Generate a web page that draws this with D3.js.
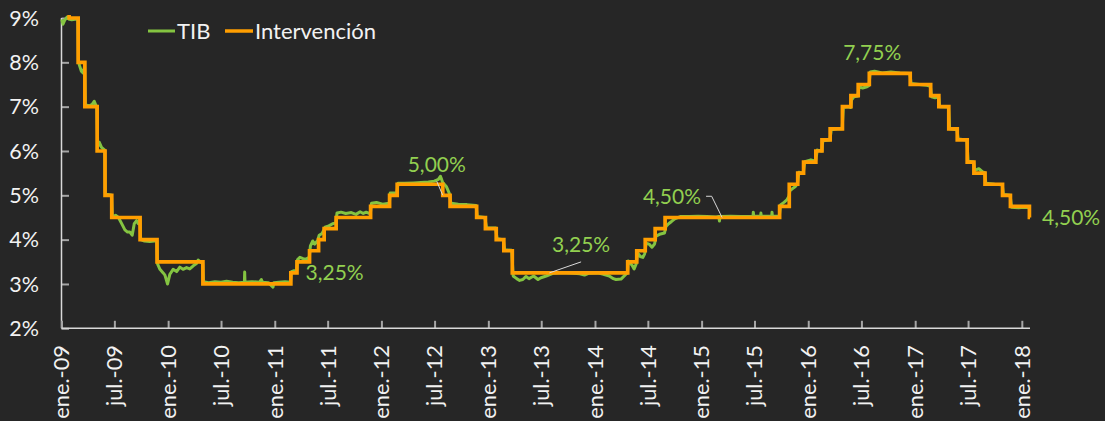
<!DOCTYPE html>
<html>
<head>
<meta charset="utf-8">
<script src="https://cdn.jsdelivr.net/npm/d3@7"></script>
<style>
  html, body { margin: 0; padding: 0; background: #262626; }
  svg { display: block; }
  text { font-family: Lato, "Open Sans", sans-serif; }
</style>
</head>
<body>
<svg id="chart" width="1105" height="421"></svg>
<script>
// Tasa de intervención del Banco de la República: fecha de cada cambio y nivel (%)
const policyDates = [
  "2009-01-01","2009-01-27","2009-02-27","2009-03-22","2009-05-03","2009-05-30","2009-06-22",
  "2009-09-27","2009-11-24","2010-04-30","2011-02-25","2011-03-18","2011-04-30","2011-05-31",
  "2011-06-19","2011-07-30","2011-11-25","2012-01-29","2012-02-24","2012-07-29","2012-08-23",
  "2012-11-22","2012-12-22","2013-01-28","2013-02-23","2013-03-24","2014-04-23","2014-05-24",
  "2014-06-22","2014-07-26","2014-08-29","2015-09-25","2015-10-28","2015-11-26","2015-12-16",
  "2016-01-27","2016-02-17","2016-03-16","2016-04-27","2016-05-26","2016-06-20","2016-07-28",
  "2016-12-15","2017-02-23","2017-03-23","2017-04-26","2017-05-25","2017-06-28","2017-07-21",
  "2017-08-28","2017-10-27","2017-11-23","2018-01-27","2018-01-29"
];
const policyRates = [
  9.50, 9.00, 8.00, 7.00, 6.00, 5.00, 4.50,
  4.00, 3.50, 3.00, 3.25, 3.50, 3.75, 4.00,
  4.25, 4.50, 4.75, 5.00, 5.25, 5.00, 4.75,
  4.50, 4.25, 4.00, 3.75, 3.25, 3.50, 3.75,
  4.00, 4.25, 4.50, 4.75, 5.25, 5.50, 5.75,
  6.00, 6.25, 6.50, 7.00, 7.25, 7.50, 7.75,
  7.50, 7.25, 7.00, 6.50, 6.25, 5.75, 5.50,
  5.25, 5.00, 4.75, 4.50, 4.50
];

// Tasa interbancaria (TIB), %: fecha y valor
const tib = [
  ["2009-01-02",8.97],["2009-01-06",8.86],["2009-01-12",8.95],["2009-01-20",9.02],["2009-01-28",8.97],
  ["2009-02-05",8.96],["2009-02-16",8.97],["2009-02-26",8.97],
  ["2009-02-28",8.02],["2009-03-04",7.92],["2009-03-10",7.80],["2009-03-16",7.76],["2009-03-21",7.90],
  ["2009-03-24",7.04],["2009-04-06",7.02],["2009-04-16",7.05],["2009-04-23",7.12],["2009-04-28",7.04],["2009-05-02",7.00],
  ["2009-05-05",6.10],["2009-05-10",6.20],["2009-05-18",6.08],["2009-05-29",6.02],
  ["2009-05-31",5.05],["2009-06-10",5.02],["2009-06-21",5.00],
  ["2009-06-24",4.52],["2009-07-05",4.55],["2009-07-15",4.50],["2009-07-26",4.36],["2009-08-06",4.22],
  ["2009-08-15",4.17],["2009-08-23",4.17],["2009-08-31",4.10],["2009-09-07",4.36],["2009-09-15",4.43],
  ["2009-09-21",4.36],["2009-09-26",4.47],
  ["2009-09-29",4.00],["2009-10-12",3.97],["2009-10-30",3.96],["2009-11-15",3.97],["2009-11-23",3.98],
  ["2009-11-26",3.45],["2009-12-04",3.33],["2009-12-15",3.25],["2009-12-21",3.20],["2009-12-30",3.00],
  ["2010-01-07",3.22],["2010-01-18",3.33],["2010-01-30",3.28],["2010-02-10",3.38],["2010-02-21",3.33],
  ["2010-03-05",3.37],["2010-03-16",3.34],["2010-03-28",3.41],["2010-04-08",3.46],["2010-04-14",3.54],
  ["2010-04-25",3.48],["2010-04-29",3.50],
  ["2010-05-02",3.05],["2010-05-20",3.03],["2010-06-10",3.05],["2010-07-01",3.04],["2010-07-20",3.06],
  ["2010-08-10",3.04],["2010-08-31",3.03],["2010-09-19",3.04],["2010-09-20",3.27],["2010-09-21",3.04],
  ["2010-10-15",3.05],["2010-11-10",3.04],["2010-11-16",3.10],["2010-11-20",3.04],["2010-12-10",3.03],
  ["2010-12-26",2.93],["2010-12-29",3.03],["2011-01-15",3.04],["2011-02-05",3.05],["2011-02-24",3.04],
  ["2011-02-27",3.28],["2011-03-08",3.30],["2011-03-17",3.30],
  ["2011-03-20",3.55],["2011-03-28",3.60],["2011-04-08",3.57],["2011-04-18",3.56],["2011-04-29",3.60],
  ["2011-05-03",3.86],["2011-05-11",3.97],["2011-05-18",3.90],["2011-05-28",3.98],
  ["2011-06-02",4.10],["2011-06-12",4.14],["2011-06-18",4.22],
  ["2011-06-22",4.28],["2011-07-05",4.31],["2011-07-18",4.36],["2011-07-29",4.38],
  ["2011-08-02",4.60],["2011-08-16",4.62],["2011-09-01",4.59],["2011-09-20",4.61],["2011-10-06",4.57],
  ["2011-10-20",4.63],["2011-10-31",4.59],["2011-11-10",4.62],["2011-11-24",4.58],
  ["2011-11-28",4.82],["2011-12-15",4.84],["2012-01-05",4.80],["2012-01-28",4.82],
  ["2012-01-31",5.05],["2012-02-12",5.05],["2012-02-23",5.06],
  ["2012-02-27",5.27],["2012-03-20",5.27],["2012-04-20",5.28],["2012-05-15",5.29],["2012-06-10",5.30],
  ["2012-06-30",5.32],["2012-07-14",5.36],["2012-07-21",5.43],["2012-07-25",5.36],["2012-07-28",5.30],
  ["2012-07-31",5.27],["2012-08-10",5.20],["2012-08-20",5.05],
  ["2012-08-26",4.82],["2012-09-20",4.80],["2012-10-20",4.79],["2012-11-20",4.77],
  ["2012-11-24",4.52],["2012-12-20",4.50],
  ["2012-12-26",4.27],["2013-01-26",4.26],
  ["2013-01-31",4.02],["2013-02-21",4.00],
  ["2013-02-26",3.77],["2013-03-22",3.76],
  ["2013-03-27",3.18],["2013-04-08",3.12],["2013-04-18",3.08],["2013-04-29",3.10],["2013-05-10",3.17],
  ["2013-05-20",3.12],["2013-06-05",3.18],["2013-06-20",3.10],["2013-06-30",3.14],["2013-07-18",3.18],
  ["2013-08-10",3.24],["2013-09-10",3.26],["2013-10-10",3.25],["2013-11-10",3.23],["2013-11-26",3.20],
  ["2013-12-10",3.24],["2014-01-10",3.25],["2014-01-30",3.22],["2014-02-19",3.18],["2014-03-05",3.12],
  ["2014-03-14",3.10],["2014-03-31",3.11],["2014-04-17",3.22],["2014-04-22",3.25],
  ["2014-04-25",3.52],["2014-05-08",3.42],["2014-05-15",3.34],["2014-05-22",3.45],
  ["2014-05-27",3.70],["2014-06-05",3.62],["2014-06-14",3.60],["2014-06-20",3.68],
  ["2014-06-25",3.92],["2014-07-05",3.90],["2014-07-15",3.83],["2014-07-24",3.90],
  ["2014-07-29",4.08],["2014-08-10",4.12],["2014-08-27",4.15],
  ["2014-09-01",4.30],["2014-09-10",4.36],["2014-09-20",4.41],["2014-10-01",4.47],["2014-10-20",4.52],
  ["2014-11-20",4.52],["2014-12-20",4.53],["2015-01-20",4.52],["2015-02-20",4.51],["2015-03-01",4.52],
  ["2015-03-03",4.42],["2015-03-05",4.52],["2015-04-10",4.53],["2015-05-15",4.52],["2015-06-26",4.53],
  ["2015-06-27",4.62],["2015-06-28",4.53],["2015-07-22",4.53],["2015-07-23",4.60],["2015-07-24",4.53],
  ["2015-08-29",4.53],["2015-08-30",4.62],["2015-08-31",4.53],["2015-09-24",4.53],
  ["2015-09-28",4.78],["2015-10-10",4.84],["2015-10-20",4.90],["2015-10-27",4.98],
  ["2015-10-30",5.10],["2015-11-08",5.15],["2015-11-18",5.20],["2015-11-25",5.26],
  ["2015-11-30",5.52],["2015-12-15",5.50],
  ["2015-12-20",5.76],["2016-01-10",5.80],["2016-01-26",5.77],
  ["2016-02-01",6.02],["2016-02-16",6.00],
  ["2016-02-20",6.23],["2016-03-15",6.25],
  ["2016-03-20",6.48],["2016-04-10",6.50],["2016-04-26",6.50],
  ["2016-04-30",6.98],["2016-05-15",7.00],["2016-05-25",6.98],
  ["2016-05-28",7.15],["2016-06-05",7.22],["2016-06-19",7.24],
  ["2016-06-23",7.45],["2016-07-05",7.42],["2016-07-20",7.45],["2016-07-27",7.48],
  ["2016-07-31",7.78],["2016-08-15",7.80],["2016-09-10",7.76],["2016-10-10",7.78],["2016-11-10",7.76],
  ["2016-12-14",7.75],
  ["2016-12-18",7.52],["2017-01-15",7.50],["2017-02-10",7.48],["2017-02-22",7.46],
  ["2017-02-26",7.22],["2017-03-10",7.20],["2017-03-22",7.23],
  ["2017-03-26",7.00],["2017-04-25",6.99],
  ["2017-04-29",6.50],["2017-05-24",6.48],
  ["2017-05-28",6.27],["2017-06-27",6.25],
  ["2017-07-01",5.77],["2017-07-20",5.75],
  ["2017-07-24",5.56],["2017-08-07",5.60],["2017-08-20",5.53],["2017-08-27",5.51],
  ["2017-08-31",5.27],["2017-09-30",5.25],["2017-10-26",5.24],
  ["2017-10-30",5.02],["2017-11-22",5.00],
  ["2017-11-27",4.73],["2017-12-20",4.72],["2018-01-10",4.73],["2018-01-26",4.72]
];

// Ejes
const yTicks = [2, 3, 4, 5, 6, 7, 8, 9];
const xTickStart = "2009-01-01";
const xTickEnd = "2018-01-01";
const monthAbbr = ["ene.","feb.","mar.","abr.","may.","jun.","jul.","ago.","sept.","oct.","nov.","dic."];

// Series names for the legend
const seriesNames = ["TIB", "Intervención"];

// Etiquetas de valor: fecha de referencia y tasa
const labelDates  = ["2011-03-01","2012-07-29","2013-07-29","2015-03-12","2016-08-07","2018-01-29"];
const labelValues = [3.25, 5.00, 3.25, 4.50, 7.75, 4.50];

// Label placement relative to its reference point (px): text offset, anchor, leader polyline
const labelLayout = [
  { dx: 13.5, dy: 7,    anchor: "start",  leader: null },
  { dx: -6,   dy: -23,  anchor: "middle", leader: [[-6, -14]] },
  { dx: 31.7, dy: -20.5,anchor: "middle", leader: [[31.7, -11]] },
  { dx: -21,  dy: -13.7,anchor: "end",    leader: [[-10.4, -21.2], [-16, -21.2]] },
  { dx: 0,    dy: -13.3,anchor: "middle", leader: null },
  { dx: 12,   dy: 7.7,  anchor: "start",  leader: null }
];

const colors = {
  bg: "#262626",
  tib: "#84c441",
  policy: "#ff9e00",
  label: "#92d050",
  axis: "#d9d9d9",
  tick: "#a6a6a6",
  text: "#f2f2f2",
  leader: "#d9d9d9"
};

const parse = d3.utcParse("%Y-%m-%d");
const svg = d3.select("#chart");

const x = d3.scaleUtc()
  .domain([parse(xTickStart), parse(policyDates[policyDates.length - 1])])
  .range([61.5, 1030]);
const y = d3.scaleLinear().domain([2, 9]).range([328.3, 18]);

svg.append("rect").attr("width", 1105).attr("height", 421).attr("fill", colors.bg);

svg.append("defs").append("clipPath").attr("id", "plot")
  .append("rect").attr("x", 60).attr("y", 15).attr("width", 980).attr("height", 316);

// Eje Y
const yAxis = d3.axisRight(y).tickValues(yTicks).tickSize(7.5).tickFormat("");
const gy = svg.append("g").attr("transform", `translate(${x.range()[0]},0)`).call(yAxis);
gy.select(".domain").remove();
gy.selectAll(".tick line").attr("stroke", colors.tick).attr("stroke-width", 2);
svg.append("line")
  .attr("x1", x.range()[0]).attr("x2", x.range()[0])
  .attr("y1", y(9)).attr("y2", y(2))
  .attr("stroke", colors.axis).attr("stroke-width", 1.5);

svg.append("g").selectAll("text").data(yTicks).join("text")
  .attr("x", 39).attr("y", d => y(d)).attr("dy", "0.36em")
  .attr("text-anchor", "end")
  .attr("fill", colors.text).attr("font-size", 21.5)
  .text(d => d + "%");

// Eje X
const xTicks = d3.utcMonth.every(6).range(parse(xTickStart), d3.utcDay.offset(parse(xTickEnd), 1));
const fmtTick = d => monthAbbr[d.getUTCMonth()] + "-" + String(d.getUTCFullYear() % 100).padStart(2, "0");
const xAxis = d3.axisTop(x).tickValues(xTicks).tickSize(7.5).tickFormat("");
const gx = svg.append("g").attr("transform", `translate(0,${y(2)})`).call(xAxis);
gx.select(".domain").remove();
gx.selectAll(".tick line").attr("stroke", colors.tick).attr("stroke-width", 2);
svg.append("line")
  .attr("x1", x.range()[0]).attr("x2", x.range()[1])
  .attr("y1", y(2)).attr("y2", y(2))
  .attr("stroke", colors.axis).attr("stroke-width", 1.5);

svg.append("g").selectAll("text").data(xTicks).join("text")
  .attr("transform", d => `translate(${x(d)},345) rotate(-90)`)
  .attr("dy", "0.36em")
  .attr("text-anchor", "end")
  .attr("fill", colors.text).attr("font-size", 21.8)
  .text(fmtTick);

// Series
const plot = svg.append("g").attr("clip-path", "url(#plot)");

const tibLine = d3.line().x(d => x(parse(d[0]))).y(d => y(d[1]));
plot.append("path").datum(tib)
  .attr("d", tibLine)
  .attr("fill", "none").attr("stroke", colors.tib)
  .attr("stroke-width", 3).attr("stroke-linejoin", "round");

const policy = policyDates.map((d, i) => [d, policyRates[i]]);
const policyLine = d3.line().curve(d3.curveStepAfter).x(d => x(parse(d[0]))).y(d => y(d[1]));
plot.append("path").datum(policy)
  .attr("d", policyLine)
  .attr("fill", "none").attr("stroke", colors.policy)
  .attr("stroke-width", 3.7).attr("stroke-linejoin", "miter");

// Etiquetas de valor con líneas guía
const fmtPct = v => d3.format(".2f")(v).replace(".", ",") + "%";
const labels = svg.append("g");
labelDates.forEach((d, i) => {
  const px = x(parse(d)), py = y(labelValues[i]);
  const L = labelLayout[i];
  if (L.leader) {
    const pts = [[px, py]].concat(L.leader.map(p => [px + p[0], py + p[1]]));
    labels.append("path")
      .attr("d", d3.line()(pts))
      .attr("fill", "none").attr("stroke", colors.leader).attr("stroke-width", 1);
  }
  labels.append("text")
    .attr("x", px + L.dx).attr("y", py + L.dy)
    .attr("text-anchor", L.anchor)
    .attr("fill", colors.label).attr("font-size", 21)
    .text(fmtPct(labelValues[i]));
});

// Leyenda
const legend = svg.append("g");
const legendItems = [
  { name: seriesNames[0], color: colors.tib, x: 148, w: 27, sw: 3 },
  { name: seriesNames[1], color: colors.policy, x: 225, w: 28, sw: 3.5 }
];
legendItems.forEach(it => {
  legend.append("line")
    .attr("x1", it.x).attr("x2", it.x + it.w).attr("y1", 31).attr("y2", 31)
    .attr("stroke", it.color).attr("stroke-width", it.sw);
  legend.append("text")
    .attr("x", it.x + it.w + 2).attr("y", 38.5)
    .attr("fill", colors.text).attr("font-size", 22)
    .text(it.name);
});
</script>
</body>
</html>
